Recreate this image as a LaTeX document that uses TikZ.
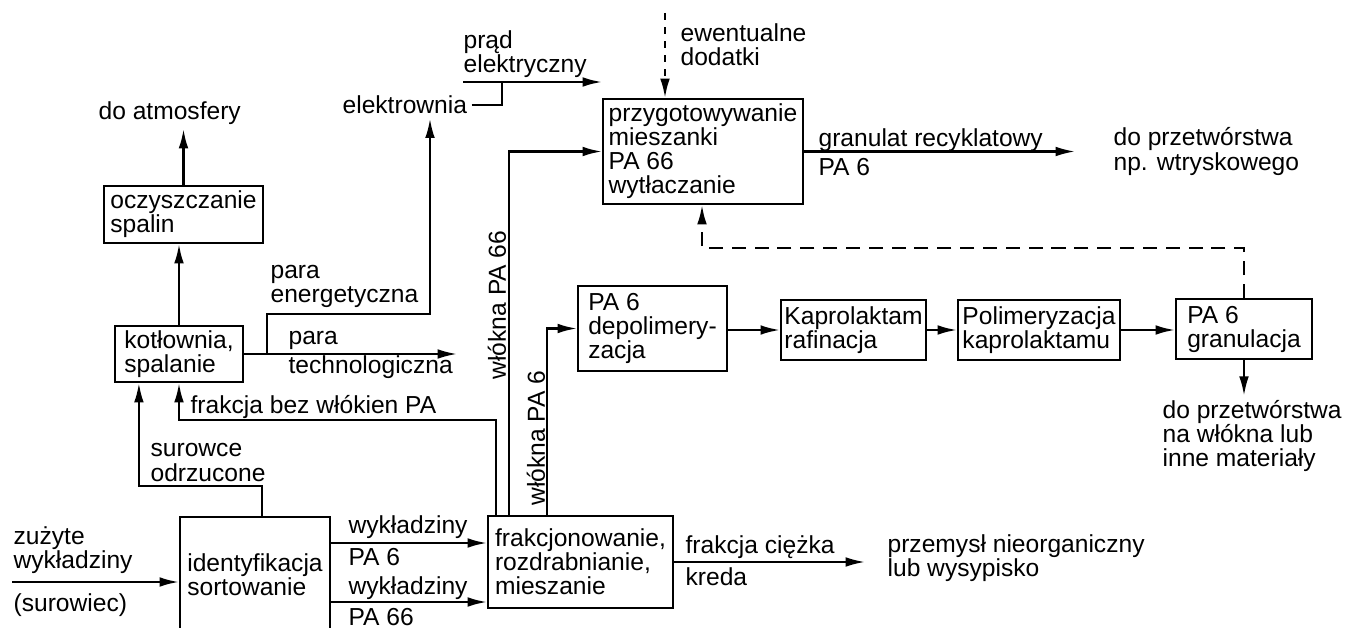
\documentclass[tikz,border=0pt]{standalone}
\usepackage{fontspec}
\setmainfont{Liberation Sans}
\usetikzlibrary{arrows.meta,calc}

\begin{document}
\begin{tikzpicture}[>={Latex[length=11pt,width=5.5pt]}, x=0.02cm, y=-0.02cm,
  font=\fontsize{14}{13.7}\selectfont, line width=1.25pt,
  box/.style={draw, align=left, inner sep=2pt},
  lab/.style={align=left, anchor=west, inner sep=2pt},
  feed/.style={dash pattern=on 8pt off 5pt},
  extra/.style={dash pattern=on 4pt off 4pt}]
\useasboundingbox (0,0) rectangle (1352,628);
\clip (0,0) rectangle (1352,628);

%boxes
\node[box, minimum width=3.18cm, minimum height=1.14cm] (oczy)   at (183.5,214.5) {oczyszczanie\\spalin};
\node[box, minimum width=2.56cm, minimum height=1.12cm] (kotl)   at (179,354)     {kotłownia,\\spalanie};
\node[box, minimum width=4cm,    minimum height=2.1cm]  (przyg)  at (703,151.5)   {przygotowywanie\\mieszanki\\PA 66\\wytłaczanie};
\node[box, minimum width=2.98cm, minimum height=1.7cm]  (depol)  at (652.5,328.5) {PA 6\\depolimery-\\zacja};
\node[box, minimum width=2.86cm, minimum height=1.2cm]  (kapro)  at (853.5,330)   {Kaprolaktam\\rafinacja};
\node[box, minimum width=3.24cm, minimum height=1.2cm]  (polim)  at (1039,330)    {Polimeryzacja\\kaprolaktamu};
\node[box, minimum width=2.72cm, minimum height=1.2cm]  (granul) at (1244,329)    {PA 6\\granulacja};
\node[box, minimum width=3.7cm,  minimum height=1.84cm] (frakc)  at (580.5,562)   {frakcjonowanie,\\rozdrabnianie,\\mieszanie};
\node[box, minimum width=3cm,    minimum height=2.3cm]  (ident)  at (255,574.5)   {identyfikacja\\sortowanie};

%labels
\node[lab] (atmo) at (94,113)    {do atmosfery};
\node[lab] (elek) at (338,105)   {elektrownia};
\node[lab] (prad) at (459,54)    {prąd\\elektryczny};
\node[lab] (dod)  at (676,44.5)  {ewentualne\\dodatki};
\node[lab] (pen)  at (266,286.5) {para\\energetyczna};
\node[lab] (pt1)  at (284,340)   {para};
\node[lab] (pt2)  at (284,367)   {technologiczna};
\node[lab] (fbez) at (186,407)   {frakcja bez włókien PA};
\node[lab] (sur)  at (146,462.5) {surowce\\odrzucone};
\node[lab] (zuz)  at (9,550.5)   {zużyte\\wykładziny};
\node[lab] (surw) at (9,605)     {(surowiec)};
\node[lab] (w6a)  at (344,527)   {wykładziny};
\node[lab] (w6b)  at (344,557)   {PA 6};
\node[lab] (w66a) at (344,588)   {wykładziny};
\node[lab] (w66b) at (344,617)   {PA 66};
\node[lab] (fc1)  at (681,547)   {frakcja ciężka};
\node[lab] (fc2)  at (681,577)   {kreda};
\node[lab] (prz)  at (883,558.5) {przemysł nieorganiczny\\lub wysypisko};
\node[lab] (gr1)  at (814,140)   {granulat recyklatowy};
\node[lab] (gr2)  at (814,167)   {PA 6};
\node[lab] (dpw)  at (1109,151.5){do przetwórstwa\\np. wtryskowego};
\node[lab] (dpf)  at (1158,436)  {do przetwórstwa\\na włókna lub\\inne materiały};
\node[rotate=90, inner sep=2pt] (wl66) at (497,305) {włókna PA 66};
\node[rotate=90, inner sep=2pt] (wl6)  at (536,438) {włókna PA 6};

%free ends and bends
\coordinate (pe)  at (267,354);    %branch para
\coordinate (pt)  at (457,354);    %para technologiczna
\coordinate (eb)  at (430,314);    %bend to elektrownia
\coordinate (pa)  at (463,82);     %prad elektryczny
\coordinate (pj)  at (502,82);     %joint elektrownia
\coordinate (dd)  at (665,13);     %ewentualne dodatki
\coordinate (gr)  at (1075,151.5); %granulat
\coordinate (fb)  at (702,248);    %feedback bend
\coordinate (ci)  at (865,562);    %frakcja ciezka
\coordinate (src) at (12,582);     %zuzyte wykladziny
\coordinate (w6)  at (330,543);
\coordinate (w66) at (330,602);

%left part
\draw[->] (oczy.north) -- (oczy.north |- atmo.south);
\draw[->] (kotl.north) -- (kotl.north |- oczy.south);
\draw[->] (kotl.east) -- (pt);
\draw[->] (pe) |- (eb) -- (eb |- elek.south);
\draw (elek.east) -| (pj);
\draw[->] (pa) -- (pa -| przyg.west);
\draw[->] ($(frakc.north west)+(9,0)$) -- ++(0,-95) -| (kotl.south);
\draw[->] ($(ident.north west)+(83,0)$) -- ++(0,-30) -| ($(kotl.south west)+(25,0)$);

%bottom row
\draw[->] (src) -- (src -| ident.west);
\draw[->] (w6) -- (w6 -| frakc.west);
\draw[->] (w66) -- (w66 -| frakc.west);
\draw[->] (frakc.east) -- (ci);

%fibres
\draw[->] ($(frakc.north west)+(22,0)$) |- (przyg.west);
\draw[->] ($(frakc.north west)+(60,0)$) |- (depol.west);

%top
\draw[->, extra] (dd) -- (dd |- przyg.north);
\draw[->] (przyg.east) -- (gr);
\draw[->, feed] (granul.north) |- (fb) -- (fb |- przyg.south);

%PA 6 line
\draw[->] (depol.east |- kapro) -- (kapro.west);
\draw[->] (kapro.east) -- (polim.west);
\draw[->] (polim.east) -- (polim.east -| granul.west);
\draw[->] (granul.south) -- (granul.south |- dpf.north);

\end{tikzpicture}
\end{document}
